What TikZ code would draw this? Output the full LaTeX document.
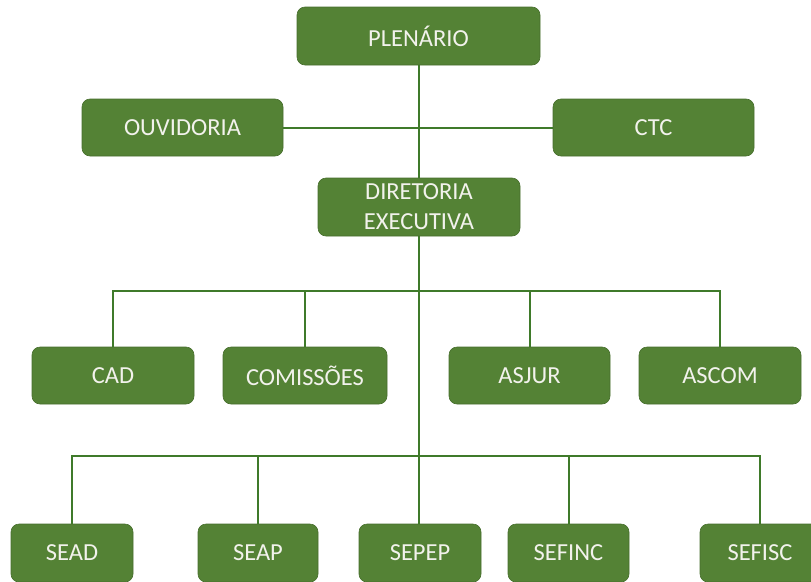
\documentclass[tikz,border=0pt]{standalone}
\usepackage{fontspec}
\setmainfont{Carlito}
\definecolor{boxgreen}{HTML}{548235}
\definecolor{linegreen}{HTML}{3F7A2A}
\definecolor{txt}{HTML}{F2F2EC}
\begin{document}
\begin{tikzpicture}[x=1pt,y=-1pt,
  box/.style={draw=boxgreen!85!black,line width=0.6pt,fill=boxgreen,rounded corners=8pt,
    text=txt,font=\fontsize{24.5}{30}\selectfont,align=center,inner sep=0pt},
  conn/.style={draw=linegreen,line width=2pt}]
\useasboundingbox (0,0) rectangle (811,581);
\node[box,minimum width=243pt,minimum height=58pt] (plen) at (418.5,36) {PLENÁRIO};
\node[box,minimum width=201pt,minimum height=57pt] (ouv) at (182.5,127.5) {OUVIDORIA};
\node[box,minimum width=201pt,minimum height=57pt] (ctc) at (653.5,127.5) {CTC};
\node[box,minimum width=202pt,minimum height=58pt] (dir) at (419,207) {DIRETORIA\\EXECUTIVA};
\node[box,minimum width=162pt,minimum height=57pt] (cad) at (113,375.5) {CAD};
\node[box,minimum width=164pt,minimum height=57pt] (com) at (305,375.5) {COMISSÕES};
\node[box,minimum width=161pt,minimum height=57pt] (asj) at (529.5,375.5) {ASJUR};
\node[box,minimum width=162pt,minimum height=57pt] (asc) at (720,375.5) {ASCOM};
\node[box,minimum width=122pt,minimum height=58pt] (sead) at (72,553) {SEAD};
\node[box,minimum width=120pt,minimum height=58pt] (seap) at (258,553) {SEAP};
\node[box,minimum width=122pt,minimum height=58pt] (sepep) at (420,553) {SEPEP};
\node[box,minimum width=121pt,minimum height=58pt] (sefinc) at (568.5,553) {SEFINC};
\node[box,minimum width=120pt,minimum height=58pt] (sefisc) at (760,553) {SEFISC};
\coordinate (h1) at (419,291);
\coordinate (h2) at (419,456);
% connectors
\draw[conn] (plen.south -| 419,0) -- (dir.north -| 419,0);
\draw[conn] (ouv.east) -- (ctc.west);
\draw[conn] (dir.south -| 419,0) -- (sepep.north -| 419,0);
\draw[conn] (cad.north) |- (h1) -| (asc.north);
\draw[conn] (com.north) -- (com.north |- h1);
\draw[conn] (asj.north) -- (asj.north |- h1);
\draw[conn] (sead.north) |- (h2) -| (sefisc.north);
\draw[conn] (seap.north) -- (seap.north |- h2);
\draw[conn] (sefinc.north) -- (sefinc.north |- h2);
\end{tikzpicture}
\end{document}
